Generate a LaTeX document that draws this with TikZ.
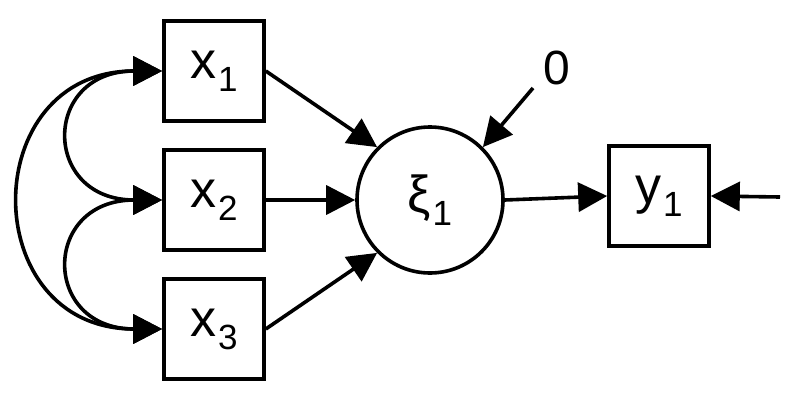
\documentclass[tikz,border=0pt]{standalone}
\usepackage{fontspec}
\setmainfont{Liberation Sans}
\usetikzlibrary{arrows.meta}
\newcommand\mysub[1]{\kern1.5pt\raisebox{-13pt}{\fontsize{35}{35}\selectfont #1}}
\begin{document}
\begin{tikzpicture}[x=1pt,y=-1pt,
  box/.style={draw, line width=3.6pt, minimum size=100pt, inner sep=0pt, font=\fontsize{52}{52}\selectfont},
  lat/.style={draw, circle, line width=3.6pt, minimum size=146pt, inner sep=0pt, font=\fontsize{52}{52}\selectfont},
  arr/.style={line width=3.6pt, -{Triangle[length=29pt,width=29pt]}},
  bi/.style={line width=3.6pt, {Triangle[length=29pt,width=29pt]}-{Triangle[length=29pt,width=29pt]}},
  lab/.style={font=\fontsize{48}{48}\selectfont, inner sep=0pt}]
\useasboundingbox (0,0) rectangle (800,402);
\node[box] (x1) at (214,71) {x\mysub{1}};
\node[box] (x2) at (214,200) {x\mysub{2}};
\node[box] (x3) at (214,329) {x\mysub{3}};
\node[lat] (xi) at (430,200) {ξ\mysub{1}};
\node[box] (y1) at (659,196) {y\mysub{1}};
\node[lab] (zero) at (557,68) {0};
\coordinate (zt) at (533,88);
\coordinate (et) at (780,197);
\draw[arr] (x1.east) -- (xi.135);
\draw[arr] (x2.east) -- (xi.west);
\draw[arr] (x3.east) -- (xi.225);
\draw[arr] (zt) -- (xi.45);
\draw[arr] (xi.east) -- (y1.west);
\draw[arr] (et) -- (y1.east);
\draw[bi] (x2.west) to[out=180,in=180,looseness=2.4] (x1.west);
\draw[bi] (x3.west) to[out=180,in=180,looseness=2.4] (x2.west);
\draw[bi] (x3.west) to[out=180,in=180,looseness=1.85] (x1.west);
\end{tikzpicture}
\end{document}
